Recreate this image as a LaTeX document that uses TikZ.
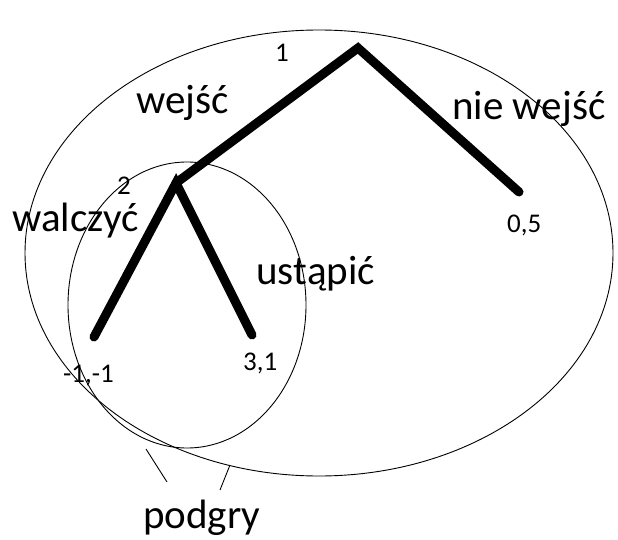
\documentclass[tikz,border=0pt]{standalone}
\usepackage{fontspec}
\setmainfont{Carlito}
\usetikzlibrary{positioning}

\begin{document}
\begin{tikzpicture}[x=1pt, y=-1pt,
    edge/.style={line width=9pt, line cap=round, line join=miter},
    set/.style={draw, line width=0.9pt},
    big/.style={font=\fontsize{41}{49}\selectfont, inner sep=0pt, anchor=base west},
    small/.style={font=\fontsize{27}{32}\selectfont, inner sep=0pt, anchor=base west}]
    \useasboundingbox (0,0) rectangle (618,540);

    % subgames
    \draw[set] (319,253) ellipse [x radius=294pt, y radius=223pt];
    \draw[set] (187,305) ellipse [x radius=119pt, y radius=143pt];

    % tree
    \coordinate (n1) at (358,48);
    \coordinate (n2) at (176,183);
    \coordinate (t1) at (519,192);
    \coordinate (t2) at (94,337);
    \coordinate (t3) at (252,335);
    \draw[edge] (n2) -- (n1) -- (t1);
    \draw[edge] (t2) -- (n2) -- (t3);

    % labels
    \node[small] (p1) at (275,62) {1};
    \node[small] (p2) at (117,195) {2};
    \node[big] (wejsc) at (136,114) {wejść};
    \node[big] (niewejsc) at (452,120) {nie wejść};
    \node[big] (walczyc) at (12,231) {walczyć};
    \node[big] (ustapic) at (256,284) {ustąpić};
    \node[small] (u1) at (507,233) {0,5};
    \node[small] (u2) at (63,382) {-1,-1};
    \node[small] (u3) at (243,370) {3,1};
    \node[big] (podgry) at (143,528) {podgry};

    % pointers
    \coordinate (a1) at (146,449);
    \coordinate (a2) at (167,482);
    \coordinate (b1) at (230,465);
    \coordinate (b2) at (220,490);
    \draw[line width=0.9pt] (a1) -- (a2);
    \draw[line width=0.9pt] (b1) -- (b2);
\end{tikzpicture}
\end{document}
